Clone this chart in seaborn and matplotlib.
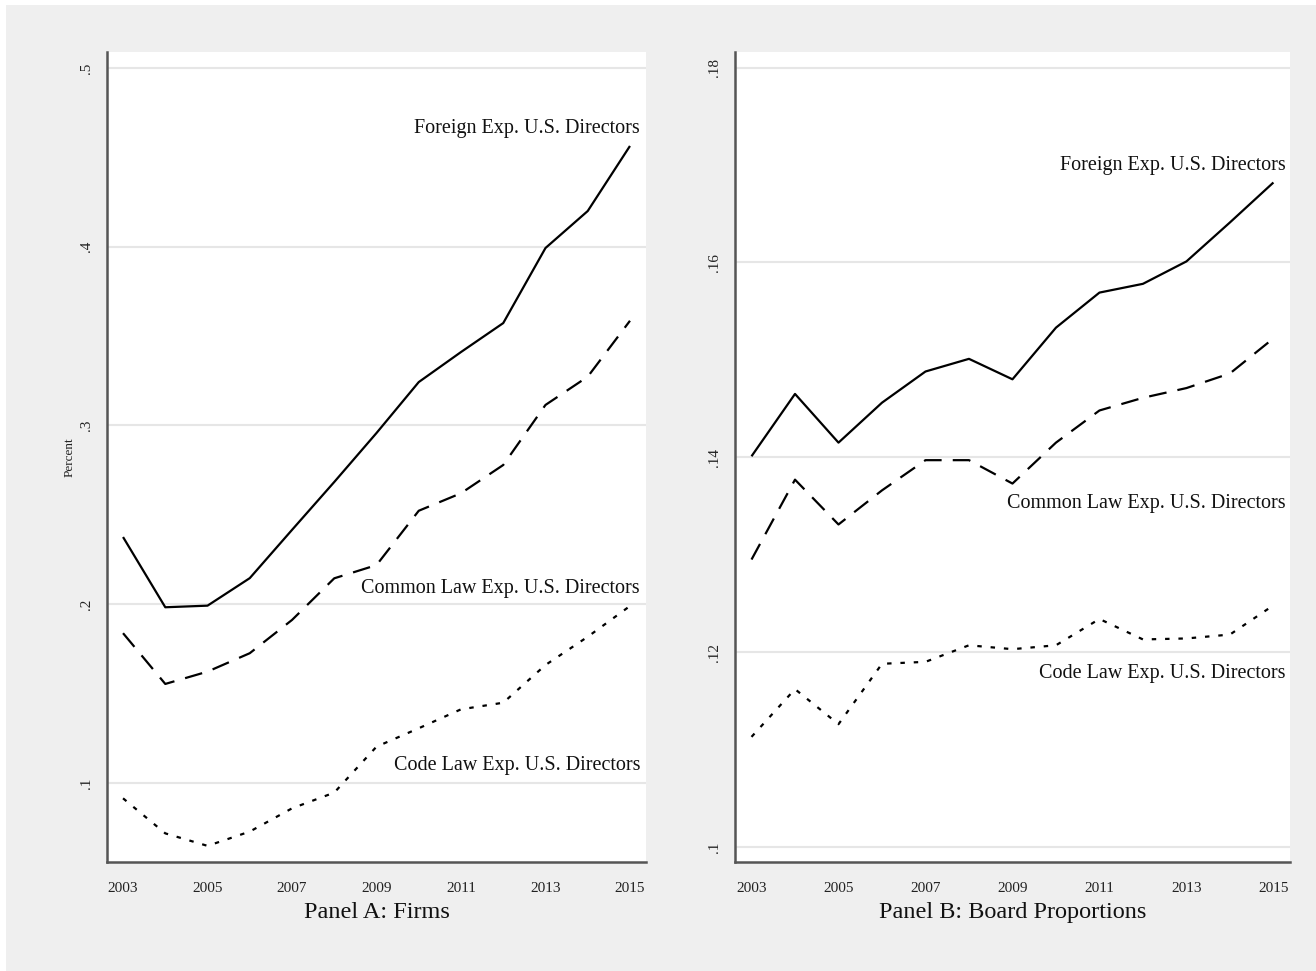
import numpy as np
import pandas as pd
import seaborn as sns
import matplotlib.pyplot as plt
from matplotlib.patches import Rectangle
from matplotlib.ticker import FuncFormatter

years = list(range(2003, 2016))

# Panel A: share of firms
firms_foreign = [0.2376, 0.1983, 0.1992, 0.2146, 0.2416, 0.2684, 0.2958,
                 0.3243, 0.3411, 0.3573, 0.3993, 0.4200, 0.4564]
firms_common = [0.1838, 0.1554, 0.1623, 0.1726, 0.1912, 0.2145, 0.2219,
                0.2523, 0.2621, 0.2779, 0.3115, 0.3273, 0.3586]
firms_code = [0.0914, 0.0718, 0.0648, 0.0728, 0.0858, 0.0946, 0.1203,
              0.1306, 0.1412, 0.1449, 0.1660, 0.1818, 0.1990]

# Panel B: board proportions
board_foreign = [0.1401, 0.1465, 0.1415, 0.1456, 0.1488, 0.1501, 0.1480,
                 0.1533, 0.1569, 0.1578, 0.1601, 0.1641, 0.1682]
board_common = [0.1295, 0.1377, 0.1331, 0.1366, 0.1397, 0.1397, 0.1373,
                0.1415, 0.1448, 0.1461, 0.1471, 0.1486, 0.1522]
board_code = [0.1113, 0.1162, 0.1126, 0.1188, 0.1190, 0.1207, 0.1203,
              0.1207, 0.1234, 0.1213, 0.1214, 0.1218, 0.1248]

series_names = ["Foreign Exp. U.S. Directors",
                "Common Law Exp. U.S. Directors",
                "Code Law Exp. U.S. Directors"]

firms_ticks = [0.1, 0.2, 0.3, 0.4, 0.5]
board_ticks = [0.10, 0.12, 0.14, 0.16, 0.18]
year_ticks = [2003, 2005, 2007, 2009, 2011, 2013, 2015]

# label anchors (right edge x, centre y) in data units
firms_label_y = [0.4659, 0.2090, 0.1100]
board_label_y = [0.1699, 0.1353, 0.1178]

sns.set_theme(style="white")
plt.rcParams['font.family'] = ['Liberation Serif', 'DejaVu Serif']

bg = '#efefef'
fig = plt.figure(figsize=(13.16, 9.71), dpi=100, facecolor=bg)
# thin white strip along the top and left edges, as in the source image
fig.patches.append(Rectangle((0, 0.9948), 1, 0.0052, transform=fig.transFigure,
                             facecolor='white', edgecolor='none', zorder=-1))
fig.patches.append(Rectangle((0, 0), 0.0046, 1, transform=fig.transFigure,
                             facecolor='white', edgecolor='none', zorder=-1))

axA = fig.add_axes([0.0813, 0.1123, 0.4096, 0.8342])
axB = fig.add_axes([0.5585, 0.1123, 0.4217, 0.8342])

styles = [(0, ()), (0, (8, 5)), (0, (2, 4))]


def draw_panel(ax, vals, label_y, yticks, ylim, title, label_x):
    df = pd.DataFrame({'year': years * 3,
                       'value': sum(vals, []),
                       'series': sum([[n] * len(years) for n in series_names], [])})
    for name, ls in zip(series_names, styles):
        sns.lineplot(data=df[df['series'] == name], x='year', y='value',
                     color='black', linewidth=1.6, linestyle=ls, ax=ax,
                     legend=False)
    for name, y in zip(series_names, label_y):
        ax.text(label_x, y, name, ha='right', va='center', fontsize=14.5,
                color='#111111')
    ax.set_ylim(*ylim)
    ax.set_xlim(2002.62, 2015.38)
    ax.set_yticks(yticks)
    ax.set_xticks(year_ticks)
    ax.yaxis.set_major_formatter(FuncFormatter(
        lambda v, p: ('%g' % v).lstrip('0')))
    ax.grid(axis='y', color='#e6e6e6', linewidth=1.5)
    ax.set_axisbelow(True)
    for s in ['top', 'right']:
        ax.spines[s].set_visible(False)
    for s in ['left', 'bottom']:
        ax.spines[s].set_color('#555555')
        ax.spines[s].set_linewidth(1.8)
    ax.tick_params(axis='both', direction='out', length=6, width=1.2,
                   color='#333333', labelsize=11, labelcolor='#222222')
    ax.tick_params(axis='x', pad=8.5)
    ax.tick_params(axis='y', pad=4)
    plt.setp(ax.get_yticklabels(), rotation=90, va='center')
    ax.set_xlabel(title, fontsize=17.5, labelpad=5, color='#111111')
    ax.set_ylabel('')
    ax.set_facecolor('white')


draw_panel(axA, [firms_foreign, firms_common, firms_code], firms_label_y,
           firms_ticks, (0.0558, 0.509), 'Panel A: Firms', 2015.24)
draw_panel(axB, [board_foreign, board_common, board_code], board_label_y,
           board_ticks, (0.09846, 0.1816), 'Panel B: Board Proportions', 2015.28)
axA.set_ylabel('Percent', fontsize=9.5, labelpad=3, color='#222222')

fig.savefig('out.png', dpi=100, facecolor=bg)
